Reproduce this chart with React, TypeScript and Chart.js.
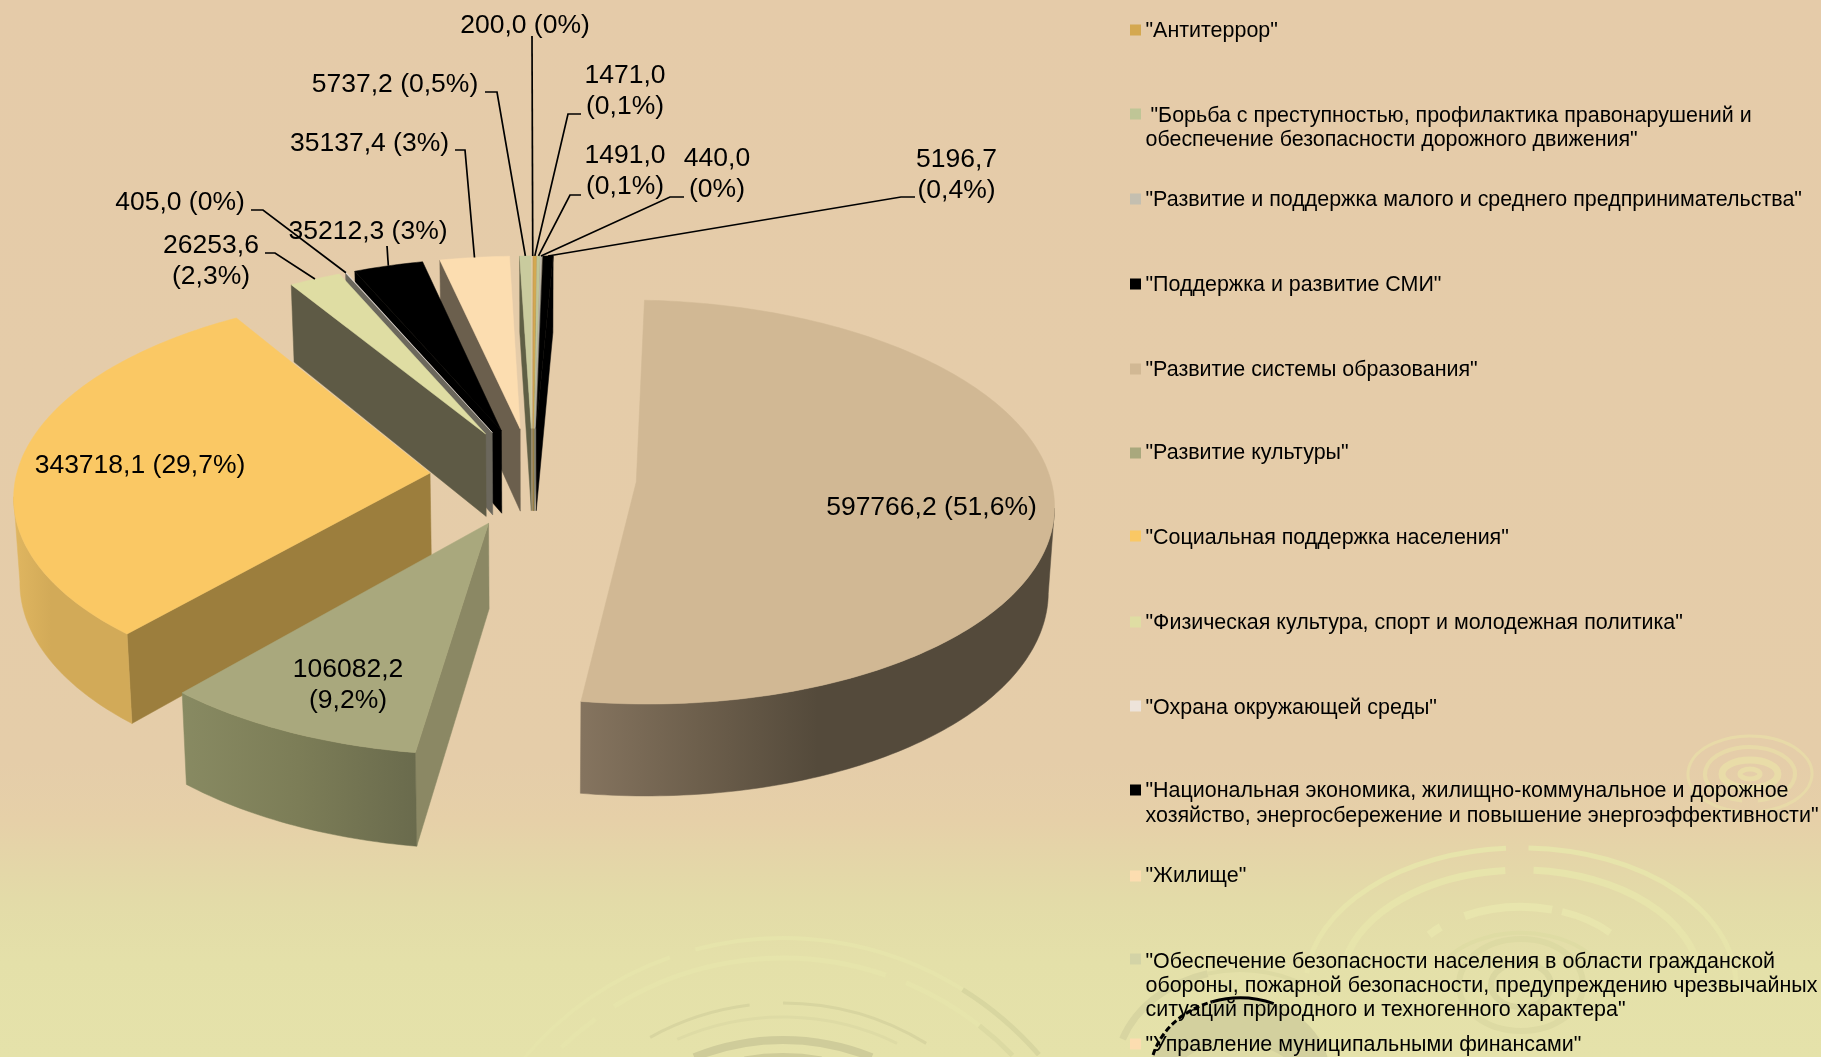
import React, { useEffect, useRef } from "react";
import { Chart, registerables } from "chart.js";

Chart.register(...registerables);

const categories = [
  '"Антитеррор"',
  '"Борьба с преступностью, профилактика правонарушений и обеспечение безопасности дорожного движения"',
  '"Развитие и поддержка малого и среднего предпринимательства"',
  '"Поддержка и развитие СМИ"',
  '"Развитие системы образования"',
  '"Развитие культуры"',
  '"Социальная поддержка населения"',
  '"Физическая культура, спорт и молодежная политика"',
  '"Охрана окружающей среды"',
  '"Национальная экономика, жилищно-коммунальное и дорожное хозяйство, энергосбережение и повышение энергоэффективности"',
  '"Жилище"',
  '"Обеспечение безопасности населения в области гражданской обороны, пожарной безопасности, предупреждению чрезвычайных ситуаций природного и техногенного характера"',
  '"Управление муниципальными финансами"',
];
const values = [1471.0, 1491.0, 440.0, 5196.7, 597766.2, 106082.2, 343718.1, 26253.6, 405.0, 35212.3, 35137.4, 5737.2, 200.0];
const valueTexts = ["1471,0", "1491,0", "440,0", "5196,7", "597766,2", "106082,2", "343718,1", "26253,6", "405,0", "35212,3", "35137,4", "5737,2", "200,0"];
const percentTexts = ["0,1%", "0,1%", "0%", "0,4%", "51,6%", "9,2%", "29,7%", "2,3%", "0%", "3%", "3%", "0,5%", "0%"];

const topColors = ["#D4A850", "#BFC596", "#C4BFB0", "#000000", "#D1B894", "#A9A87D", "#FAC864", "#DFDDA3", "#EDE3DA", "#000000", "#FCDDB0", "#C9CB9E", "#FCDDB0"];
const legendColors = ["#D4A850", "#BFC596", "#C4BFB0", "#000000", "#D1B894", "#A9A87D", "#FAC864", "#DFDDA3", "#EDE3DA", "#000000", "#FCDDB0", "#D3D3A6", "#FCDDB0"];
const faceColors = ["#9C7E3D", "#777A5A", "#8A8678", "#000000", "#544A3B", "#8B8864", "#9C7E3D", "#5E5A45", "#6B675C", "#000000", "#6B5F4D", "#5F5F45", "#8A7A5C"];
const rimStops: (string[] | null)[] = [null, null, null, null, ["#85745F", "#6D5F4C", "#544A3B", "#544A3B", "#544A3B"], ["#888A62", "#7C7D57", "#6A6B4D"], ["#E0B660", "#D2AA58", "#D2AA58", "#D2AA58"], null, null, null, null, null, null];

// Layout of the projected pie
const CX = 533, CY = 477, RX = 414, RY = 199, PERSP = 0.1, EXPLODE = 0.25, DEPTH = 84;
const FONT = "Liberation Sans, Arial, sans-serif";
const LABEL_PX = 26.5, LEGEND_PX = 21.45;

// label layout: [centre x, first line y] by slice, plus leader elbow
const labelLayout: { x: number; y: number; two?: boolean; leader?: number[] }[] = [
  { x: 625, y: 76, two: true, leader: [581, 114, 568, 114] },
  { x: 625, y: 156, two: true, leader: [581, 195, 570, 195] },
  { x: 717, y: 159, two: true, leader: [684, 197, 670, 197] },
  { x: 956.5, y: 159.5, two: true, leader: [915, 197, 901, 197] },
  { x: 931.5, y: 508 },
  { x: 348, y: 670, two: true },
  { x: 140, y: 466 },
  { x: 211, y: 246, two: true, leader: [265, 253, 275, 253] },
  { x: 180, y: 203, leader: [251, 210, 263, 210] },
  { x: 368, y: 232, leader: [387, 246, 387, 246] },
  { x: 369.5, y: 144, leader: [455, 150, 465, 150] },
  { x: 395, y: 85, leader: [485, 92, 497, 92] },
  { x: 525, y: 26, leader: [532, 36, 532, 36] },
];
const LABEL_LINE = 31;

// legend layout: swatch centre y, text lines + centre y of each
const legendLayout: { sy: number; lines: string[]; ys: number[]; indent?: number }[] = [
  { sy: 30, lines: ['"Антитеррор"'], ys: [31] },
  { sy: 114, lines: ['"Борьба с преступностью, профилактика правонарушений и', 'обеспечение безопасности дорожного движения"'], ys: [116, 140], indent: 5 },
  { sy: 199, lines: ['"Развитие и поддержка малого и среднего предпринимательства"'], ys: [200] },
  { sy: 284, lines: ['"Поддержка и развитие СМИ"'], ys: [285] },
  { sy: 369, lines: ['"Развитие системы образования"'], ys: [370] },
  { sy: 453, lines: ['"Развитие культуры"'], ys: [453] },
  { sy: 536, lines: ['"Социальная поддержка населения"'], ys: [538] },
  { sy: 622, lines: ['"Физическая культура, спорт и молодежная политика"'], ys: [623] },
  { sy: 706, lines: ['"Охрана окружающей среды"'], ys: [708] },
  { sy: 790, lines: ['"Национальная экономика, жилищно-коммунальное и дорожное', 'хозяйство, энергосбережение и повышение энергоэффективности"'], ys: [791, 816] },
  { sy: 876, lines: ['"Жилище"'], ys: [876] },
  { sy: 959, lines: ['"Обеспечение безопасности населения в области гражданской', 'обороны, пожарной безопасности, предупреждению чрезвычайных', 'ситуаций природного и техногенного характера"'], ys: [962, 986, 1010] },
  { sy: 1044, lines: ['"Управление муниципальными финансами"'], ys: [1045] },
];

// Decorative rings of the slide background: [cx, cy, rx, ry, fromDeg, toDeg (clockwise from top), colour, width]
const rings: [number, number, number, number, number, number, string, number][] = [
  [783, 1277, 339, 339, -50, -19.5, "#E6E4AB", 4],
  [783, 1277, 339, 339, -15, 32, "#E6E4AB", 4],
  [783, 1277, 339, 339, 32, 49, "#D8D6A0", 5],
  [783, 1277, 319, 319, -32, 18.8, "#E6E4AB", 5],
  [783, 1277, 319, 319, 22.7, 38, "#E6E4AB", 5],
  [783, 1277, 319, 319, 38, 46, "#DCDAA3", 5],
  [783, 1277, 319, 319, -44, -36, "#E6E4AB", 5],
  [783, 1277, 274, 274, -29, -7, "#D8D5A0", 3],
  [783, 1277, 274, 274, 0, 31.5, "#D8D5A0", 3],
  [783, 1277, 260, 260, -24, 26, "#DEDBA5", 3],
  [783, 1277, 237, 237, -22, 22, "#CFCC9A", 8],
  [783, 1277, 222, 222, -10, 10, "#CFCC9A", 4],

  [1521, 985, 215, 137, -85, -4, "#E7E4AB", 5],
  [1521, 985, 215, 137, 2, 95, "#E7E4AB", 5],
  [1521, 985, 180, 115, -78, -5, "#E7E4AB", 7],
  [1521, 985, 180, 115, 4, 85, "#E7E4AB", 7],
  [1521, 985, 120, 78, -28, 15, "#E8E5AD", 8],
  [1521, 985, 120, 78, 20, 48, "#E8E5AD", 7],
  [1521, 985, 120, 78, -50, -42, "#E8E5AD", 8],
  [1521, 985, 85, 52, -70, 70, "#DFDCA4", 4],
  [1521, 985, 62, 46, -180, 180, "#DDDAA3", 6],
  [1521, 985, 30, 22, -180, 180, "#DAD7A1", 6],

  [1750, 774, 62, 38, -170, 170, "#E8DAA8", 3],
  [1750, 774, 45, 27, -170, 170, "#E8DAA8", 4],
  [1750, 774, 28, 14, -180, 180, "#E9DCA8", 7],
  [1750, 774, 10, 5, -180, 180, "#E9DCA8", 5],

  [1240, 1075, 125, 105, -70, -15, "#D8D5A1", 7],
  [1240, 1075, 125, 105, -15, 40, "#DDDAA3", 4],
];

const topP = (u: number, v: number) => {
  const w = 1 + PERSP * v;
  return { x: CX + (RX * u) / w, y: CY - (RY * v) / w };
};
const botP = (u: number, v: number) => {
  const w = 1 + PERSP * v;
  return { x: CX + (RX * 0.988 * u) / w, y: CY + DEPTH - (RY * 1.035 * v) / w };
};

const sliceGeometry = (arc: any) => {
  const a0 = arc.startAngle + Math.PI / 2;
  const a1 = arc.endAngle + Math.PI / 2;
  const mid = (a0 + a1) / 2;
  const ou = EXPLODE * Math.sin(mid);
  const ov = EXPLODE * Math.cos(mid);
  const n = Math.max(2, Math.ceil(((a1 - a0) * 180) / Math.PI));
  const rim: number[][] = [];
  for (let i = 0; i <= n; i++) {
    const t = a0 + ((a1 - a0) * i) / n;
    rim.push([ou + Math.sin(t), ov + Math.cos(t)]);
  }
  return { a0, a1, mid, ou, ov, rim };
};

const poly = (ctx: CanvasRenderingContext2D, pts: { x: number; y: number }[], fill: any) => {
  ctx.beginPath();
  pts.forEach((p, i) => (i ? ctx.lineTo(p.x, p.y) : ctx.moveTo(p.x, p.y)));
  ctx.closePath();
  ctx.fillStyle = fill;
  ctx.fill();
  ctx.strokeStyle = fill;
  ctx.lineWidth = 0.5;
  ctx.stroke();
};

const backgroundPlugin = {
  id: "background",
  beforeDraw(chart: any) {
    const { ctx, width, height } = chart;
    const g = ctx.createLinearGradient(0, 0, 0, height);
    g.addColorStop(0, "#E5CBA9");
    g.addColorStop(0.72, "#E5CDA9");
    g.addColorStop(0.776, "#E6D0A8");
    g.addColorStop(0.85, "#E3DBA8");
    g.addColorStop(0.91, "#E4E0A9");
    g.addColorStop(1, "#E5E2AA");
    ctx.save();
    ctx.fillStyle = g;
    ctx.fillRect(0, 0, width, height);
    // soft disc and its broken black outline beside the lower legend rows
    ctx.beginPath();
    ctx.ellipse(1240, 1075, 90, 77, 0, 0, Math.PI * 2);
    ctx.fillStyle = "#D3D09E";
    ctx.fill();
    ctx.beginPath();
    ctx.ellipse(1235, 1085, 65, 42, 0, 0, Math.PI * 2);
    ctx.fillStyle = "#DEDBA5";
    ctx.fill();
    rings.forEach(([cx, cy, rx, ry, from, to, color, lw]) => {
      ctx.beginPath();
      ctx.ellipse(cx, cy, rx, ry, 0, ((from - 90) * Math.PI) / 180, ((to - 90) * Math.PI) / 180);
      ctx.strokeStyle = color;
      ctx.lineWidth = lw;
      ctx.stroke();
    });
    ctx.strokeStyle = "#000";
    ctx.lineWidth = 3;
    ctx.beginPath();
    ctx.ellipse(1240, 1075, 90, 77, 0, (-108 * Math.PI) / 180, (-68 * Math.PI) / 180);
    ctx.stroke();
    ctx.setLineDash([6, 3]);
    ctx.beginPath();
    ctx.ellipse(1240, 1075, 90, 77, 0, (-185 * Math.PI) / 180, (-108 * Math.PI) / 180);
    ctx.stroke();
    ctx.setLineDash([]);
    ctx.restore();
  },
};

const piePlugin = {
  id: "pie3d",
  beforeDatasetsDraw(chart: any) {
    const { ctx } = chart;
    const arcs = chart.getDatasetMeta(0).data;
    const order = arcs
      .map((arc: any, i: number) => ({ i, g: sliceGeometry(arc) }))
      .sort((a: any, b: any) => {
        const d = (m: number) => Math.abs((m * 180) / Math.PI - 180);
        return d(b.g.mid) - d(a.g.mid);
      });
    ctx.save();
    for (const { i, g } of order) {
      const A = topP(g.ou, g.ov);
      const Ab = botP(g.ou, g.ov);
      const top = g.rim.map((r: number[]) => topP(r[0], r[1]));
      const bot = g.rim.map((r: number[]) => botP(r[0], r[1]));
      const S = top[0], Sb = bot[0], E = top[top.length - 1], Eb = bot[bot.length - 1];
      if (S.x < A.x) poly(ctx, [A, S, Sb, Ab], faceColors[i]);
      if (A.x < E.x) poly(ctx, [E, A, Ab, Eb], faceColors[i]);
      const idx: number[] = [];
      for (let k = 0; k < top.length - 1; k++) if (top[k + 1].x < top[k].x) { if (!idx.length) idx.push(k); idx.push(k + 1); }
      if (idx.length > 1) {
        const vis = idx.map((k) => top[k]);
        const visB = idx.map((k) => bot[k]).reverse();
        const xs = vis.map((p) => p.x);
        const stops = rimStops[i];
        let fill: any = faceColors[i];
        if (stops) {
          const x0 = Math.min(...xs), x1 = Math.max(...xs);
          const grad = ctx.createLinearGradient(x0, 0, x1, 0);
          stops.forEach((c, j) => grad.addColorStop(j / (stops.length - 1), c));
          fill = grad;
        }
        poly(ctx, [...vis, ...visB], fill);
      }
      poly(ctx, [A, ...top], topColors[i]);
    }
    ctx.restore();
    return false;
  },
  afterDraw(chart: any) {
    const { ctx } = chart;
    const arcs = chart.getDatasetMeta(0).data;
    ctx.save();
    ctx.fillStyle = "#000";
    ctx.strokeStyle = "#000";
    ctx.textBaseline = "middle";
    ctx.font = `${LABEL_PX}px ${FONT}`;
    ctx.textAlign = "center";
    labelLayout.forEach((l, i) => {
      const lines = l.two ? [valueTexts[i], `(${percentTexts[i]})`] : [`${valueTexts[i]} (${percentTexts[i]})`];
      lines.forEach((t, k) => ctx.fillText(t, l.x, l.y + k * LABEL_LINE));
      if (l.leader) {
        const g = sliceGeometry(arcs[i]);
        const end = topP(g.ou + Math.sin(g.mid), g.ov + Math.cos(g.mid));
        ctx.beginPath();
        ctx.lineWidth = 1.7;
        ctx.moveTo(l.leader[0], l.leader[1]);
        ctx.lineTo(l.leader[2], l.leader[3]);
        ctx.lineTo(end.x, end.y);
        ctx.stroke();
      }
    });
    ctx.font = `${LEGEND_PX}px ${FONT}`;
    ctx.textAlign = "left";
    legendLayout.forEach((e, i) => {
      ctx.fillStyle = legendColors[i];
      ctx.fillRect(1130, e.sy - 5.5, 11, 11);
      ctx.fillStyle = "#000";
      e.lines.forEach((t, k) => ctx.fillText(t, 1145.5 + (k === 0 && e.indent ? e.indent : 0), e.ys[k]));
    });
    ctx.restore();
  },
};

export default function App() {
  const ref = useRef<HTMLCanvasElement>(null);
  useEffect(() => {
    const chart = new Chart(ref.current as HTMLCanvasElement, {
      type: "pie",
      data: { labels: categories, datasets: [{ data: values, backgroundColor: topColors, borderWidth: 0 }] },
      options: {
        animation: false,
        responsive: false,
        rotation: 0,
        events: [],
        plugins: { legend: { display: false }, tooltip: { enabled: false } },
      },
      plugins: [backgroundPlugin, piePlugin],
    } as any);
    return () => chart.destroy();
  }, []);
  return <canvas ref={ref} width={1821} height={1057} style={{ position: "fixed", left: 0, top: 0, display: "block" }} />;
}
